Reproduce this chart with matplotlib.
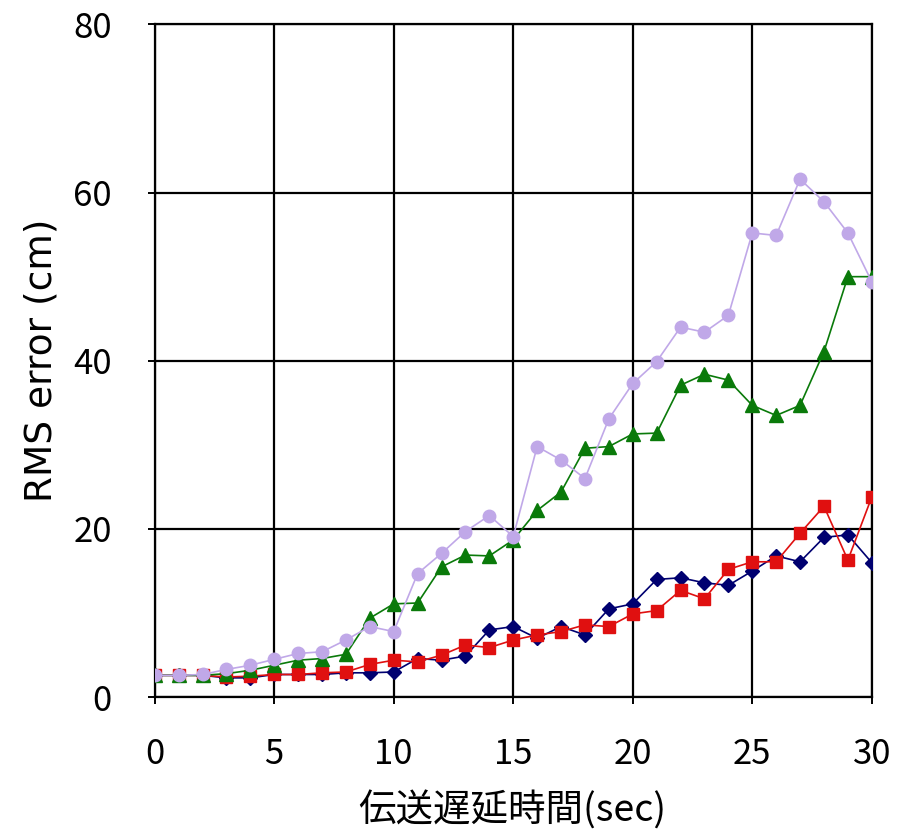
import matplotlib
matplotlib.use('Agg')
import matplotlib.pyplot as plt

plt.rcParams['font.family'] = ['Noto Sans CJK JP', 'DejaVu Sans']

# 伝送遅延時間 (sec)
delay = list(range(0, 31))

# RMS error (cm) for each series
navy_err = [2.6, 2.6, 2.6, 2.3, 2.3, 2.7, 2.7, 2.7, 2.9, 2.9, 3.0,
            4.6, 4.4, 4.9, 8.0, 8.4, 7.0, 8.4, 7.4, 10.5, 11.1,
            14.0, 14.2, 13.6, 13.3, 15.0, 16.8, 16.1, 19.0, 19.3, 16.0]
red_err = [2.6, 2.6, 2.6, 2.4, 2.5, 2.7, 2.7, 2.9, 3.0, 3.9, 4.4,
           4.2, 5.0, 6.2, 5.9, 6.8, 7.4, 7.8, 8.6, 8.4, 9.9,
           10.3, 12.7, 11.7, 15.2, 16.1, 16.1, 19.5, 22.7, 16.3, 23.8]
green_err = [2.6, 2.6, 2.6, 2.8, 3.2, 3.8, 4.4, 4.6, 5.1, 9.4, 11.1,
             11.2, 15.5, 16.9, 16.8, 18.7, 22.2, 24.4, 29.6, 29.8, 31.3,
             31.4, 37.1, 38.4, 37.7, 34.7, 33.5, 34.7, 41.1, 50.0, 50.0]
purple_err = [2.6, 2.6, 2.7, 3.3, 3.8, 4.5, 5.2, 5.4, 6.8, 8.4, 7.8,
              14.7, 17.1, 19.7, 21.6, 19.1, 29.8, 28.2, 26.0, 33.1, 37.3,
              39.9, 44.0, 43.4, 45.4, 55.2, 54.9, 61.6, 58.9, 55.2, 49.4]

x_ticks = [0, 5, 10, 15, 20, 25, 30]
y_ticks = [0, 20, 40, 60, 80]

fig = plt.figure(figsize=(9.1, 8.4), dpi=100)
ax = fig.add_axes([0.170, 0.170, 0.788, 0.801])

ax.plot(delay, navy_err, color='#000070', lw=1.2, marker='D', ms=7, zorder=3)
ax.plot(delay, red_err, color='#e01010', lw=1.2, marker='s', ms=9, zorder=4)
ax.plot(delay, green_err, color='#0a7a0a', lw=1.2, marker='^', ms=10, zorder=5)
ax.plot(delay, purple_err, color='#c0a8e8', lw=1.2, marker='o', ms=9, zorder=6)

ax.set_xlim(0, 30)
ax.set_ylim(0, 80)
ax.set_xticks(x_ticks)
ax.set_yticks(y_ticks)
ax.grid(True, color='black', lw=1.6)
ax.set_axisbelow(True)
for s in ax.spines.values():
    s.set_linewidth(1.6)
ax.tick_params(direction='out', length=5, width=1.4, labelsize=25)
ax.tick_params(axis='x', pad=24)
ax.tick_params(axis='y', pad=26)

ax.set_xlabel('伝送遅延時間(sec)', fontsize=27)
ax.xaxis.set_label_coords(0.499, -0.140)
ax.set_ylabel('RMS error (cm)', fontsize=27, family=['DejaVu Sans'])
ax.yaxis.set_label_coords(-0.133, 0.5)

fig.savefig('out.png', dpi=100)
